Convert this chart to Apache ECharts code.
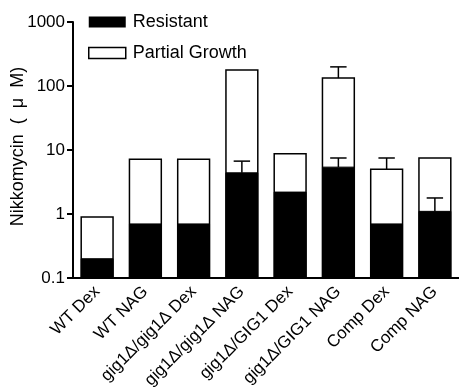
<!DOCTYPE html>
<html><head><meta charset="utf-8">
<script src="https://cdn.jsdelivr.net/npm/echarts@6/dist/echarts.min.js"></script>
<style>html,body{margin:0;padding:0;background:#fff}#c{width:459px;height:391px}</style>
</head><body><div id="c"></div>
<script>
const categories = ['WT Dex','WT NAG','gig1Δ/gig1Δ Dex','gig1Δ/gig1Δ NAG','gig1Δ/GIG1 Dex','gig1Δ/GIG1 NAG','Comp Dex','Comp NAG'];
const partialGrowth = [0.9, 7.2, 7.2, 178, 8.7, 133, 5.0, 7.5];
const partialErr = [null, null, null, null, null, 199, 7.5, null];
const resistant = [0.2, 0.7, 0.7, 4.4, 2.2, 5.4, 0.7, 1.1];
const resistantErr = [null, null, null, 6.7, null, 7.5, null, 1.78];
const yTicks = [0.1, 1, 10, 100, 1000];
const yMin = 0.1, yMax = 1000;

const FONT = '"Liberation Sans", Arial, sans-serif';

function barRender(fill) {
  return function (params, api) {
    const i = api.value(0), v = api.value(1);
    const top = api.coord([i, v]);
    const base = api.coord([i, yMin]);
    const w = api.size([1, 0])[0] * 0.66;
    return {
      type: 'rect',
      shape: { x: top[0] - w / 2, y: top[1], width: w, height: base[1] - top[1] },
      style: fill ? { fill: '#000', stroke: '#000', lineWidth: 1 } : { fill: '#fff', stroke: '#000', lineWidth: 1.5 }
    };
  };
}
function errRender(params, api) {
  const i = api.value(0), v = api.value(1), e = api.value(2);
  const p1 = api.coord([i, v]);
  const p2 = api.coord([i, e]);
  const cw = api.size([1, 0])[0] * 0.17;
  return {
    type: 'group',
    children: [
      { type: 'line', shape: { x1: p1[0], y1: p1[1], x2: p2[0], y2: p2[1] }, style: { stroke: '#000', lineWidth: 1.5 } },
      { type: 'line', shape: { x1: p2[0] - cw, y1: p2[1], x2: p2[0] + cw, y2: p2[1] }, style: { stroke: '#000', lineWidth: 1.5 } }
    ]
  };
}
const errData = [];
categories.forEach((c, i) => {
  if (partialErr[i] != null) errData.push([i, partialGrowth[i], partialErr[i]]);
  if (resistantErr[i] != null) errData.push([i, resistant[i], resistantErr[i]]);
});

const chart = echarts.init(document.getElementById('c'));
chart.setOption({
  animation: false,
  textStyle: { fontFamily: FONT },
  grid: { left: 73, top: 22, width: 386, height: 256, containLabel: false, outerBoundsMode: 'none' },
  legend: {
    left: 83, top: 8, orient: 'vertical', itemGap: 13, itemWidth: 37, itemHeight: 11,
    textStyle: { fontSize: 18, color: '#000', fontFamily: FONT, padding: [0, 0, 0, 2] },
    data: [
      { name: 'Resistant', icon: 'rect', itemStyle: { color: '#000' } },
      { name: 'Partial Growth', icon: 'rect', itemStyle: { color: '#fff', borderColor: '#000', borderWidth: 1.5 } }
    ]
  },
  xAxis: {
    type: 'category', data: categories,
    axisLine: { lineStyle: { color: '#000', width: 2 } },
    axisTick: { show: false },
    axisLabel: { rotate: 45, fontSize: 17, color: '#000', margin: 11, interval: 0, fontFamily: FONT }
  },
  yAxis: {
    type: 'log', logBase: 10, min: yMin, max: yMax,
    name: 'Nikkomycin  (  μ  M)', nameLocation: 'middle', nameGap: 46, nameMoveOverlap: false,
    nameTextStyle: { fontSize: 18, color: '#000', fontFamily: FONT, padding: [0, 0, 0, 7] },
    axisLine: { show: true, lineStyle: { color: '#000', width: 2 } },
    axisTick: { show: true, length: 6, lineStyle: { color: '#000', width: 2 } },
    minorTick: { show: false },
    splitLine: { show: false },
    axisLabel: { fontSize: 17, color: '#000', margin: 8, fontFamily: FONT,
      formatter: v => { const t = yTicks.find(x => Math.abs(x - v) / x < 1e-6); return t != null ? String(t) : ''; } }
  },
  series: [
    { name: 'Partial Growth', type: 'custom', renderItem: barRender(false), data: partialGrowth.map((v, i) => [i, v]), encode: { x: 0, y: 1 }, z: 2 },
    { name: 'Resistant', type: 'custom', renderItem: barRender(true), data: resistant.map((v, i) => [i, v]), encode: { x: 0, y: 1 }, z: 3 },
    { name: 'err', type: 'custom', renderItem: errRender, data: errData, encode: { x: 0, y: [1, 2] }, z: 4 }
  ]
});
</script></body></html>
